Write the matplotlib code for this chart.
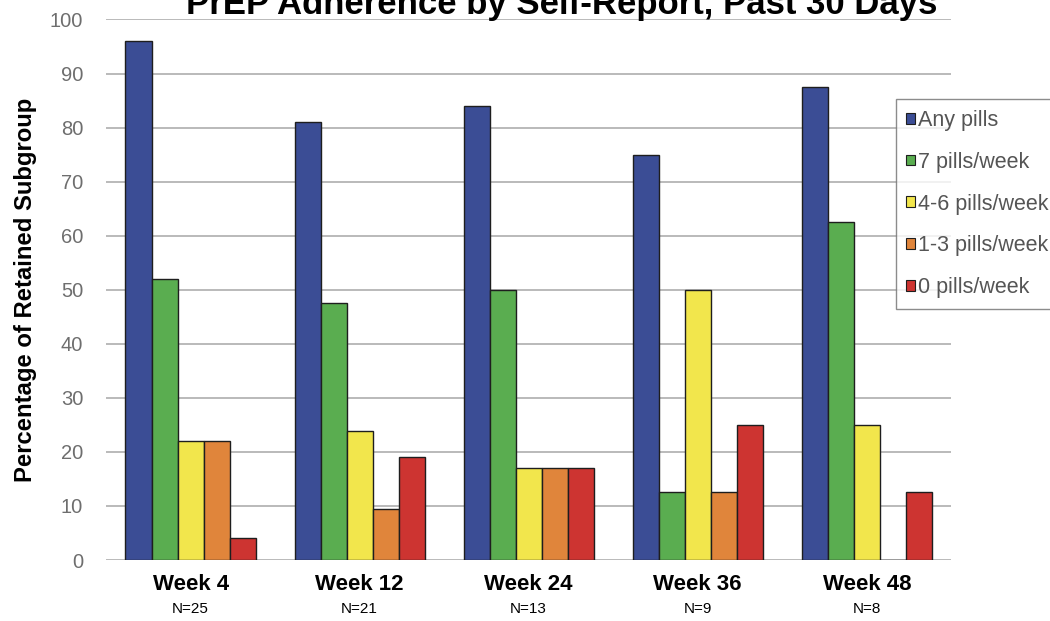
import matplotlib.pyplot as plt
import numpy as np
from matplotlib.patches import Patch

plt.rcParams['font.family'] = ['Liberation Sans', 'DejaVu Sans']

weeks = ['Week 4', 'Week 12', 'Week 24', 'Week 36', 'Week 48']
n_retained = ['N=25', 'N=21', 'N=13', 'N=9', 'N=8']

series = ['Any pills', '7 pills/week', '4-6 pills/week', '1-3 pills/week', '0 pills/week']
any_pills = [96, 81, 84, 75, 87.5]
seven_pills = [52, 47.6, 50, 12.5, 62.5]
four_six_pills = [22, 23.8, 17, 50, 25]
one_three_pills = [22, 9.5, 17, 12.5, 0]
zero_pills = [4, 19, 17, 25, 12.5]

values = [any_pills, seven_pills, four_six_pills, one_three_pills, zero_pills]
colors = ['#3b4d95', '#5aad50', '#f2e64c', '#e0853b', '#cd3431']

fig = plt.figure(figsize=(10.5, 6.21), dpi=100)
ax = fig.add_axes([0.101, 0.0982, 0.805, 0.8704])

x = np.arange(len(weeks))
width = 0.154
for i, (vals, col) in enumerate(zip(values, colors)):
    ax.bar(x + (i - 2) * width, vals, width, color=col, edgecolor='#1e1e1e',
           linewidth=1.0, zorder=3)

ax.set_xlim(-0.5, len(weeks) - 0.5)
ax.set_ylim(0, 100)
ax.set_yticks(range(0, 101, 10))
ax.yaxis.grid(True, color='#b4b4b4', linewidth=1.3, zorder=0)
ax.tick_params(axis='y', length=0, labelsize=14.5, labelcolor='#6e6e6e', pad=16.5)
ax.set_xticks([])
for s in ax.spines.values():
    s.set_visible(False)

ax.set_ylabel('Percentage of Retained Subgroup', fontsize=17.2,
              fontweight='bold', labelpad=9)

tr = ax.get_xaxis_transform()
for xi, wk, n in zip(x, weeks, n_retained):
    ax.text(xi, -0.046, wk, transform=tr, ha='center', va='center',
            fontsize=16, fontweight='bold')
    ax.text(xi, -0.09, n, transform=tr, ha='center', va='center',
            fontsize=11)

# title sits mostly above the top edge of the canvas
fig.text(0.535, 1 - 14 / 621, 'PrEP Adherence by Self-Report, Past 30 Days',
         ha='center', va='baseline', fontsize=25, fontweight='bold')

handles = [Patch(facecolor=c, edgecolor='#1e1e1e', linewidth=0.8) for c in colors]
leg = fig.legend(handles, series, loc='upper left',
                 bbox_to_anchor=(895.5 / 1050, 1 - 99 / 621),
                 fontsize=15.5, frameon=True, fancybox=False,
                 handlelength=0.4, handleheight=0.4, handletextpad=0.15,
                 labelspacing=0.97, borderpad=0.5, borderaxespad=0)
leg.get_frame().set_edgecolor('#707070')
leg.get_frame().set_linewidth(1.0)
for t in leg.get_texts():
    t.set_color('#555555')

fig.savefig('out.png', dpi=100)
